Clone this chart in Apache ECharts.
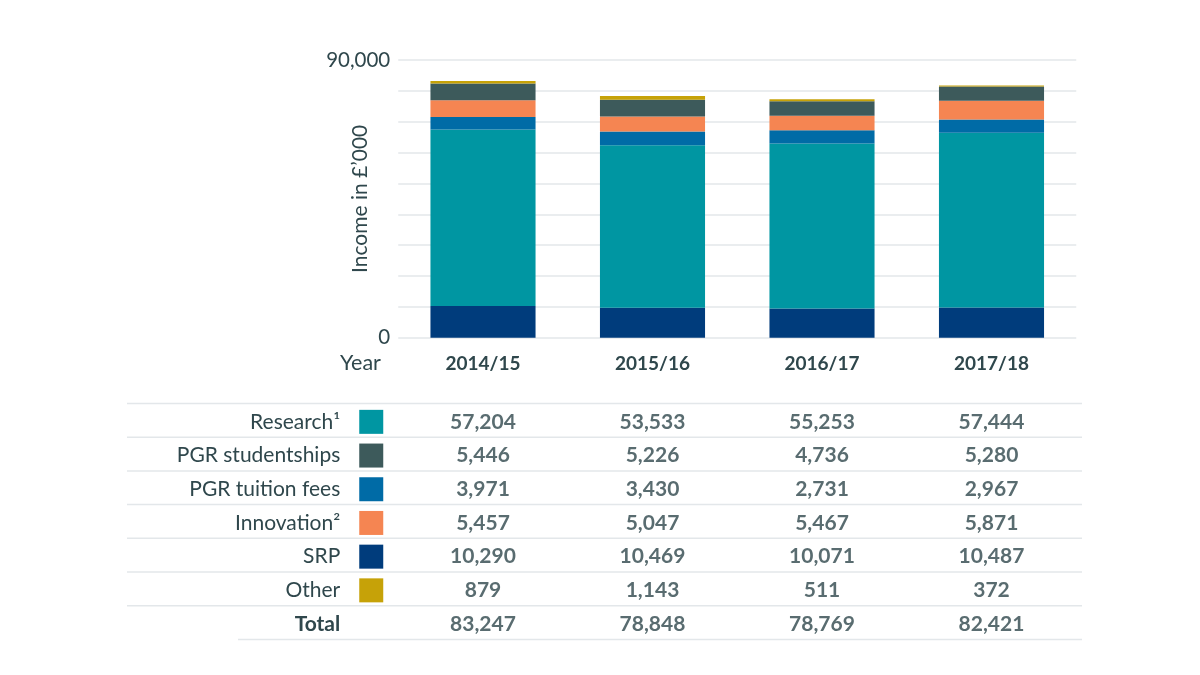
<!DOCTYPE html>
<html>
<head>
<meta charset="utf-8">
<title>Income</title>
<script src="https://cdn.jsdelivr.net/npm/echarts@6/dist/echarts.min.js"></script>
<style>
  html, body { margin: 0; padding: 0; background: #fff; }
  #main { width: 1200px; height: 675px; }
</style>
</head>
<body>
<div id="main"></div>
<script>
var years = ['2014/15', '2015/16', '2016/17', '2017/18'];

// bar heights as drawn in the chart (bottom to top)
var barSrp = [10290, 9700, 9500, 9800];
var barResearch = [57200, 52700, 53400, 56600];
var barFees = [4000, 4400, 4300, 4300];
var barInnovation = [5500, 4900, 4700, 6100];
var barStud = [5400, 5400, 4700, 4600];
var barOther = [800, 1200, 700, 300];

// figures printed in the table
var research = [57204, 53533, 55253, 57444];
var pgrStud = [5446, 5226, 4736, 5280];
var pgrFees = [3971, 3430, 2731, 2967];
var innovation = [5457, 5047, 5467, 5871];
var srp = [10290, 10469, 10071, 10487];
var other = [879, 1143, 511, 372];
var totals = [83247, 78848, 78769, 82421];

var rowNames = ['Research¹', 'PGR studentships', 'PGR tuition fees', 'Innovation²', 'SRP', 'Other', 'Total'];
var rowValues = [research, pgrStud, pgrFees, innovation, srp, other, totals];
var rowColors = ['#0096a2', '#3d5a5b', '#006ba6', '#f58552', '#003c7c', '#c6a208', null];

var txt = '#2f474c';
var font = 'Lato';
var myChart = echarts.init(document.getElementById('main'));

function fmt(v) { return v.toLocaleString('en-GB'); }

var stackDefs = [
    { name: 'SRP', data: barSrp, color: '#003c7c' },
    { name: 'Research', data: barResearch, color: '#0096a2' },
    { name: 'PGR tuition fees', data: barFees, color: '#006ba6' },
    { name: 'Innovation', data: barInnovation, color: '#f58552' },
    { name: 'PGR studentships', data: barStud, color: '#3d5a5b' },
    { name: 'Other', data: barOther, color: '#c6a208' }
];
var series = stackDefs.map(function (s) {
    return {
        name: s.name, type: 'bar', stack: 'all',
        xAxisIndex: 0, yAxisIndex: 0,
        barCategoryGap: '38%',
        itemStyle: { color: s.color },
        data: s.data
    };
});

// table numbers: label-only scatter on the second grid
var cells = [];
rowValues.forEach(function (vals, r) {
    vals.forEach(function (v, c) { cells.push([c, r, v]); });
});
series.push({
    type: 'scatter', xAxisIndex: 1, yAxisIndex: 1,
    symbolSize: 0, silent: true,
    data: cells,
    label: {
        show: true, position: 'inside',
        fontFamily: font, fontSize: 21, fontWeight: 'bold', color: txt,
        formatter: function (p) { return fmt(p.data[2]); }
    }
});

var rich = {
    n: { fontFamily: font, fontSize: 21, color: txt, align: 'right' },
    t: { fontFamily: font, fontSize: 21, color: txt, fontWeight: 'bold', align: 'right' },
    g: { width: 19 }
};
rowColors.forEach(function (c, i) {
    rich['s' + i] = { width: 24, height: 24, backgroundColor: c || 'transparent' };
});

var tableTop = 403.5, rowH = 33.7;
var lines = [];
for (var i = 0; i <= rowNames.length; i++) {
    lines.push({
        type: 'line', silent: true,
        shape: { x1: i === rowNames.length ? 238 : 127, y1: tableTop + i * rowH, x2: 1082, y2: tableTop + i * rowH },
        style: { stroke: '#e3e7ea', lineWidth: 1.5 }
    });
}

option = {
    animation: false,
    grid: [
        { left: 398.25, right: 123.75, top: 60, bottom: 337.3 },
        { left: 398.25, right: 123.75, top: tableTop + 1.5, height: rowH * rowNames.length }
    ],
    xAxis: [
        {
            gridIndex: 0, type: 'category', data: years,
            axisLine: { show: false }, axisTick: { show: false },
            axisLabel: { fontFamily: font, fontSize: 19, fontWeight: 'bold', color: txt, margin: 17 }
        },
        { gridIndex: 1, type: 'category', data: years, show: false }
    ],
    yAxis: [
        {
            gridIndex: 0, type: 'value', min: 0, max: 90000, interval: 10000,
            name: 'Income in £’000', nameLocation: 'middle', nameGap: 28, nameRotate: 90,
            nameMoveOverlap: false,
            nameTextStyle: { fontFamily: font, fontSize: 21, color: txt },
            axisLine: { show: false }, axisTick: { show: false },
            splitLine: { lineStyle: { color: '#e3e7ea', width: 1.5 } },
            axisLabel: {
                fontFamily: font, fontSize: 20.5, color: txt, margin: 8,
                formatter: function (v) { return (v === 0 || v === 90000) ? fmt(v) : ''; }
            }
        },
        {
            gridIndex: 1, type: 'category', inverse: true,
            data: rowNames,
            axisLine: { show: false }, axisTick: { show: false }, splitLine: { show: false },
            axisLabel: {
                margin: 15, rich: rich,
                formatter: function (v, i) {
                    return (i === rowNames.length - 1 ? '{t|' : '{n|') + v + '}{g|}{s' + i + '|}';
                }
            }
        }
    ],
    graphic: lines.concat([
        {
            type: 'text', left: 340, top: 352,
            style: { text: 'Year', fontFamily: font, fontSize: 21.5, fill: txt }
        }
    ]),
    series: series
};
myChart.setOption(option);
</script>
</body>
</html>
